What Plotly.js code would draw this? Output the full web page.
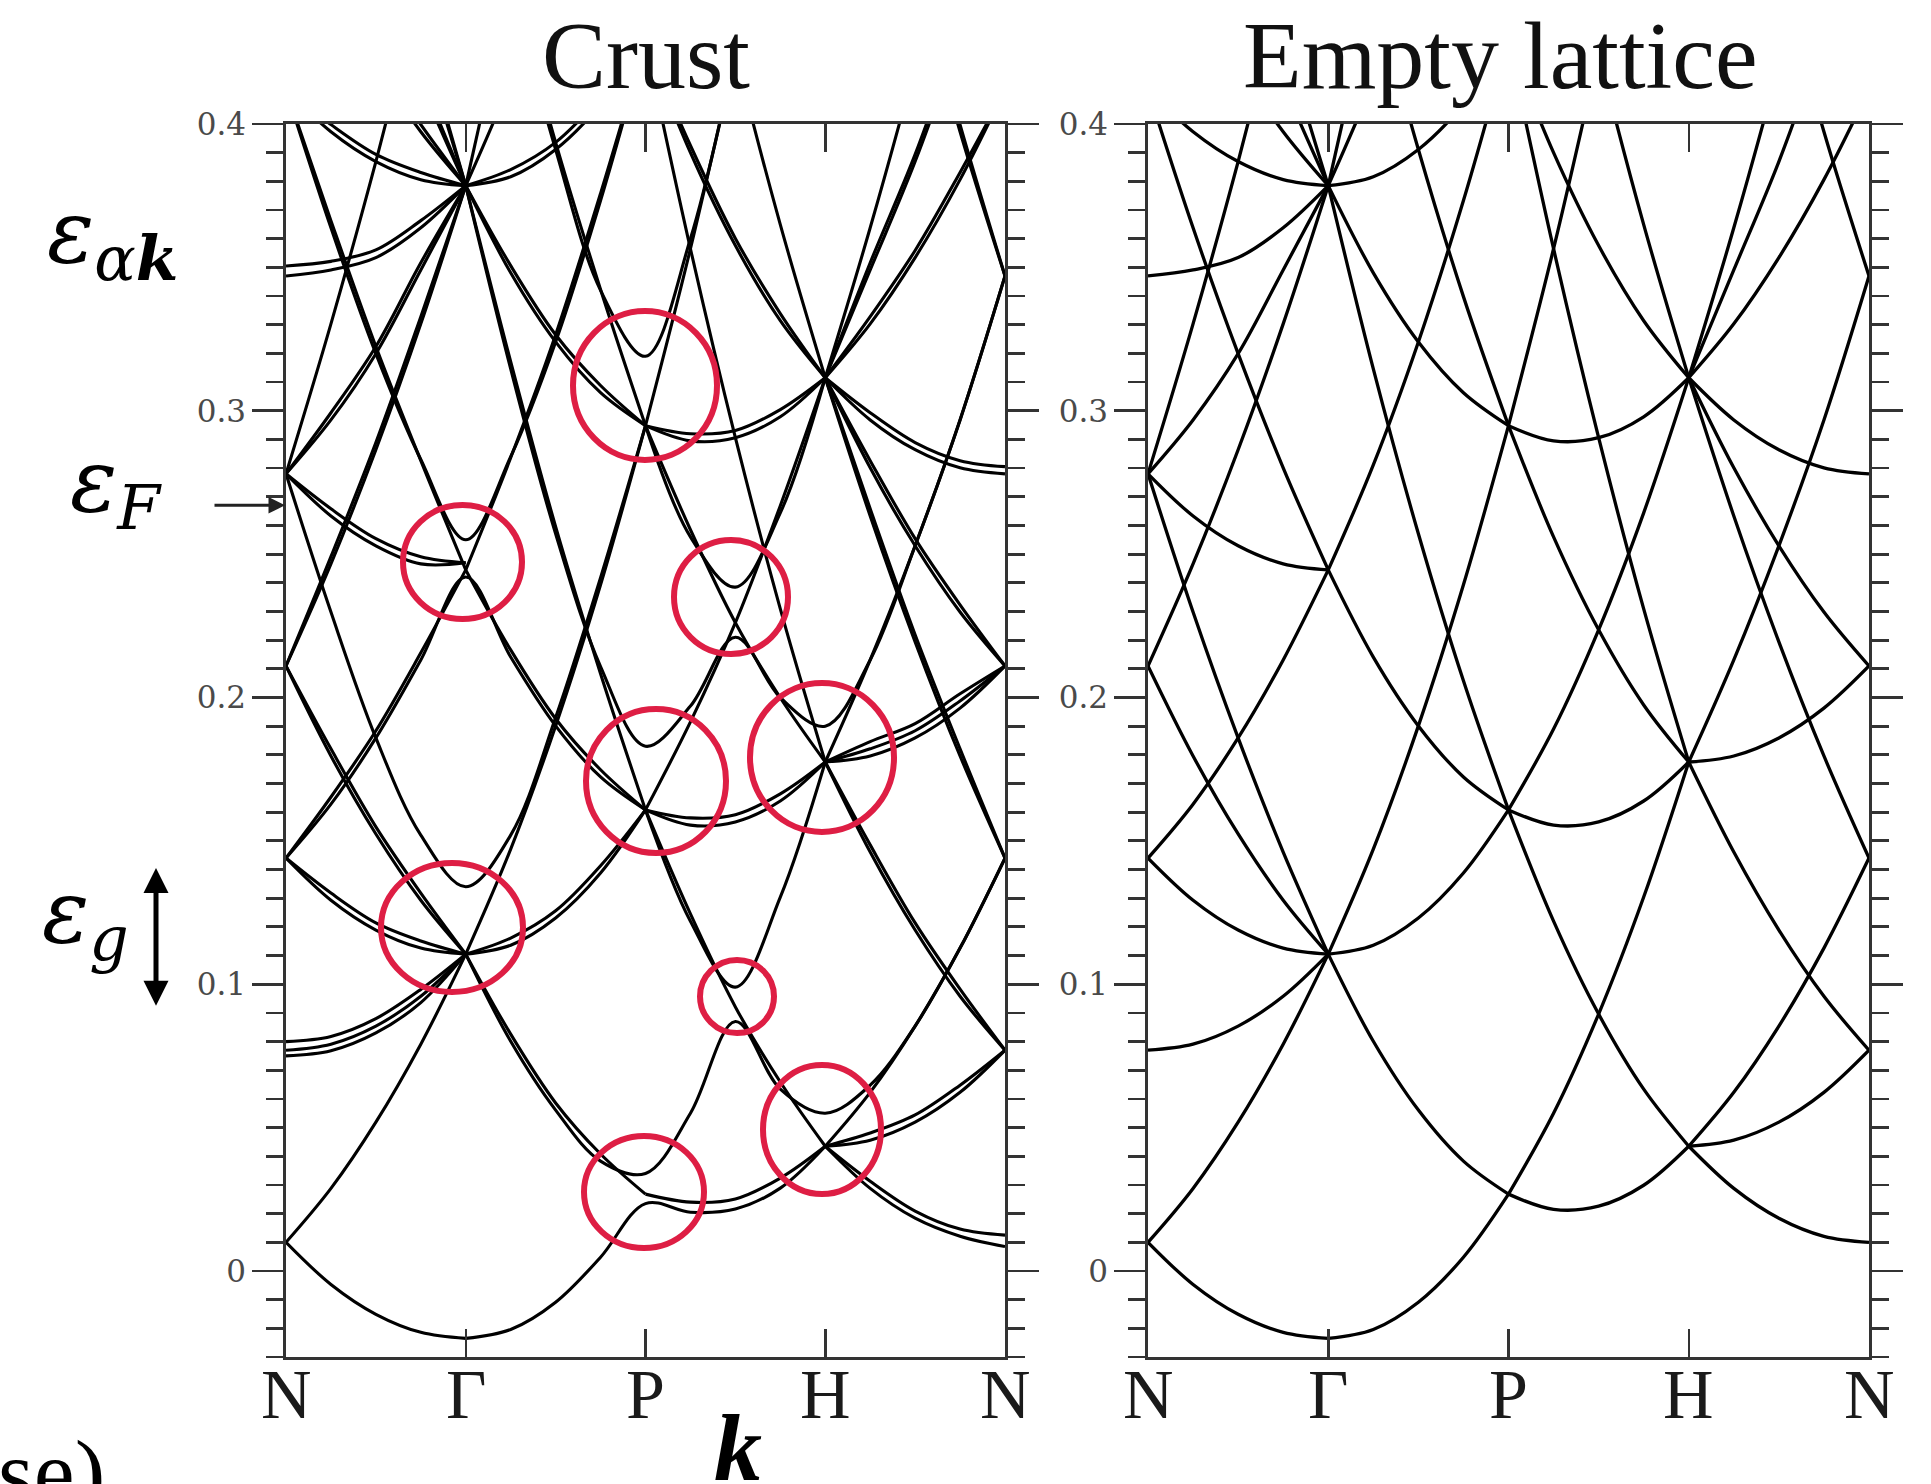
<!DOCTYPE html>
<html><head><meta charset="utf-8">
<script src="https://cdn.plot.ly/plotly-3.0.1.min.js"></script>
<style>html,body{margin:0;padding:0;background:#fff;}#chart{width:1931px;height:1484px;}</style>
</head><body><div id="chart"></div>
<script>
// ---------- data ----------
const kLabels = ['N', 'Γ', 'P', 'H', 'N'];          // high-symmetry points, one per tick
const kStep = 0.25;                                   // energies are read every quarter segment
const yTickVals = [0, 0.1, 0.2, 0.3, 0.4];
const yTickText = ['0', '0.1', '0.2', '0.3', '0.4'];

// Empty lattice: energies read along each segment, starting at the named point
const emptyFromN = [
  [0.0100, -0.0047, -0.0151, -0.0214, -0.0235],
  [0.0100, 0.0288, 0.0519, 0.0791, 0.1105],
  [0.0770, 0.0791, 0.0854, 0.0958, 0.1105],
  [0.1440, 0.1293, 0.1189, 0.1126, 0.1105],
  [0.2110, 0.1796, 0.1524, 0.1293, 0.1105],
  [0.2780, 0.2298, 0.1859, 0.1461, 0.1105],
  [0.1440, 0.1628, 0.1859, 0.2131, 0.2445],
  [0.2780, 0.2633, 0.2529, 0.2466, 0.2445],
  [0.4120, 0.3638, 0.3199, 0.2801, 0.2445],
  [0.2110, 0.2466, 0.2864, 0.3303, 0.3785],
  [0.3470, 0.3491, 0.3534, 0.3638, 0.3785],
  [0.4790, 0.4476, 0.4204, 0.3973, 0.3785],
  [0.6130, 0.5480, 0.4874, 0.4308, 0.3785],
  [0.2780, 0.2968, 0.3199, 0.3491, 0.3785],
  [0.4120, 0.3973, 0.3869, 0.3806, 0.3785],
  [0.5460, 0.4978, 0.4539, 0.4141, 0.3785],
  [0.2780, 0.3303, 0.3869, 0.4476, 0.5125]
];
const emptyFromG = [
  [-0.0235, -0.0204, -0.0109, 0.0048, 0.0268],
  [0.1105, 0.0801, 0.0561, 0.0383, 0.0268],
  [0.1105, 0.1136, 0.1231, 0.1388, 0.1608],
  [0.1105, 0.1471, 0.1901, 0.2393, 0.2948],
  [0.2445, 0.2141, 0.1901, 0.1723, 0.1608],
  [0.2445, 0.2811, 0.3240, 0.3733, 0.4288],
  [0.3785, 0.3146, 0.2571, 0.2058, 0.1608],
  [0.3785, 0.3481, 0.3240, 0.3063, 0.2948],
  [0.3785, 0.3816, 0.3911, 0.4068, 0.4288],
  [0.3785, 0.4151, 0.4581],
  [0.3785, 0.4486],
  [0.5125, 0.4486, 0.3911, 0.3398, 0.2948]
];
const emptyFromP = [
  [0.0268, 0.0215, 0.0226, 0.0299, 0.0435],
  [0.0268, 0.0550, 0.0896, 0.1304, 0.1775],
  [0.1608, 0.1220, 0.0896, 0.0634, 0.0435],
  [0.1608, 0.1555, 0.1566, 0.1639, 0.1775],
  [0.1608, 0.1890, 0.2236, 0.2644, 0.3115],
  [0.2948, 0.2560, 0.2236, 0.1974, 0.1775],
  [0.2948, 0.2895, 0.2906, 0.2979, 0.3115],
  [0.2948, 0.3565, 0.4246],
  [0.4288, 0.3565, 0.2906, 0.2309, 0.1775],
  [0.4288, 0.3900, 0.3576, 0.3314, 0.3115],
  [0.5628, 0.4905, 0.4246, 0.3649, 0.3115]
];
const emptyFromH = [
  [0.0435, 0.0288, 0.0184, 0.0121, 0.0100],
  [0.0435, 0.0456, 0.0519, 0.0623, 0.0770],
  [0.0435, 0.0623, 0.0854, 0.1126, 0.1440],
  [0.1775, 0.1461, 0.1189, 0.0958, 0.0770],
  [0.1775, 0.1796, 0.1859, 0.1963, 0.2110],
  [0.1775, 0.2131, 0.2529, 0.2968, 0.3470],
  [0.3115, 0.2633, 0.2194, 0.1796, 0.1440],
  [0.3115, 0.2801, 0.2529, 0.2298, 0.2110],
  [0.3115, 0.2968, 0.2864, 0.2801, 0.2780],
  [0.3115, 0.3303, 0.3534, 0.3806, 0.4120],
  [0.3115, 0.3491, 0.3869, 0.4308, 0.4790],
  [0.3115, 0.3638, 0.4204, 0.4810],
  [0.5795, 0.5146, 0.4539, 0.3973, 0.3470]
];

// Crust: split (doubled) bands and gaps at the avoided crossings
const crustFromN = [
  [0.0100, -0.0047, -0.0151, -0.0214, -0.0235],
  [0.0100, 0.0288, 0.0519, 0.0791, 0.1105],
  [0.0770, 0.0791, 0.0854, 0.0958, 0.1105],
  [0.0800, 0.0818, 0.0880, 0.0982, 0.1105],
  [0.0750, 0.0768, 0.0830, 0.0936, 0.1105],
  [0.1440, 0.1293, 0.1189, 0.1126, 0.1105],
  [0.1440, 0.1318, 0.1214, 0.1151, 0.1105],
  [0.2110, 0.1796, 0.1524, 0.1293, 0.1105],
  [0.2110, 0.1821, 0.1549, 0.1318, 0.1105],
  [0.2780, 0.2298, 0.1859, 0.1520, 0.1340, 0.1520, 0.1930, 0.2418, 0.2948],
  [0.1440, 0.1628, 0.1859, 0.2131, 0.2420, 0.2141, 0.1901, 0.1723, 0.1608],
  [0.1440, 0.1653, 0.1884, 0.2156, 0.2445],
  [0.2780, 0.2633, 0.2529, 0.2466, 0.2470],
  [0.2780, 0.2658, 0.2554, 0.2491, 0.2470],
  [0.4120, 0.3638, 0.3199, 0.2830, 0.2550, 0.2840, 0.3240, 0.3733, 0.4288],
  [0.4120, 0.3663, 0.3224, 0.2826, 0.2445],
  [0.2110, 0.2466, 0.2864, 0.3303, 0.3785],
  [0.2110, 0.2491, 0.2889, 0.3328, 0.3785],
  [0.3470, 0.3491, 0.3534, 0.3638, 0.3785],
  [0.3505, 0.3521, 0.3561, 0.3663, 0.3785],
  [0.4790, 0.4476, 0.4204, 0.3973, 0.3785],
  [0.4790, 0.4501, 0.4229, 0.3998, 0.3785],
  [0.6130, 0.5480, 0.4874, 0.4308, 0.3785],
  [0.6130, 0.5505, 0.4899, 0.4333, 0.3785],
  [0.2780, 0.2968, 0.3199, 0.3491, 0.3785],
  [0.2780, 0.2993, 0.3224, 0.3516, 0.3785],
  [0.4120, 0.3973, 0.3869, 0.3806, 0.3785],
  [0.4120, 0.3998, 0.3894, 0.3831, 0.3785],
  [0.5460, 0.4978, 0.4539, 0.4141, 0.3785],
  [0.5460, 0.5003, 0.4564, 0.4166, 0.3785],
  [0.2780, 0.3303, 0.3869, 0.4476, 0.5125]
];
const crustFromG = [
  [-0.0235, -0.0204, -0.0109, 0.0048, 0.0235, 0.0205, 0.0216, 0.0289, 0.0435],
  [0.1105, 0.0801, 0.0561, 0.0383, 0.0340, 0.0550, 0.0870, 0.0634, 0.0550, 0.0648, 0.0854, 0.1126, 0.1440],
  [0.1105, 0.0826, 0.0586, 0.0408, 0.0268],
  [0.1105, 0.1136, 0.1231, 0.1388, 0.1608],
  [0.1105, 0.1161, 0.1256, 0.1413, 0.1608],
  [0.1105, 0.1471, 0.1901, 0.2393, 0.2948],
  [0.2445, 0.2166, 0.1926, 0.1748, 0.1608],
  [0.2445, 0.2836, 0.3265, 0.3758, 0.4288],
  [0.3785, 0.3146, 0.2571, 0.2108, 0.1830, 0.1970, 0.2210, 0.2000, 0.1900, 0.2131, 0.2529, 0.2968, 0.3470],
  [0.3785, 0.3171, 0.2596, 0.2083, 0.1608],
  [0.3785, 0.3481, 0.3240, 0.3063, 0.2948],
  [0.3785, 0.3506, 0.3265, 0.3088, 0.2948],
  [0.3785, 0.3816, 0.3911, 0.4068, 0.4288],
  [0.3785, 0.3841, 0.3936, 0.4093, 0.4288],
  [0.3785, 0.4151, 0.4581],
  [0.3785, 0.4486],
  [0.5125, 0.4486, 0.3911, 0.3420, 0.3190, 0.3600, 0.4246, 0.4990, 0.5795],
  [0.5125, 0.4511, 0.3936, 0.3423, 0.2948]
];
const crustFromP = [
  [0.0268, 0.0240, 0.0251, 0.0324, 0.0435],
  [0.1608, 0.1220, 0.0990, 0.1304, 0.1775],
  [0.1608, 0.1245, 0.0921, 0.0659, 0.0435],
  [0.1608, 0.1555, 0.1566, 0.1639, 0.1775],
  [0.1608, 0.1580, 0.1591, 0.1664, 0.1775],
  [0.1608, 0.1915, 0.2261, 0.2669, 0.3115],
  [0.2948, 0.2560, 0.2385, 0.2644, 0.3115],
  [0.2948, 0.2585, 0.2261, 0.1999, 0.1775],
  [0.2948, 0.2895, 0.2906, 0.2979, 0.3115],
  [0.2948, 0.2920, 0.2931, 0.3004, 0.3115],
  [0.2948, 0.3565, 0.4246],
  [0.4288, 0.3565, 0.2906, 0.2309, 0.1775],
  [0.4288, 0.3900, 0.3576, 0.3314, 0.3115],
  [0.4288, 0.3925, 0.3601, 0.3339, 0.3115],
  [0.5628, 0.4905, 0.4246, 0.3649, 0.3115]
];
const crustFromH = [
  [0.0435, 0.0288, 0.0184, 0.0121, 0.0085],
  [0.0435, 0.0313, 0.0209, 0.0146, 0.0125],
  [0.0435, 0.0456, 0.0519, 0.0623, 0.0770],
  [0.0435, 0.0481, 0.0544, 0.0648, 0.0770],
  [0.0435, 0.0623, 0.0854, 0.1126, 0.1440],
  [0.1775, 0.1461, 0.1189, 0.0958, 0.0770],
  [0.1775, 0.1486, 0.1214, 0.0983, 0.0770],
  [0.1775, 0.1796, 0.1859, 0.1963, 0.2110],
  [0.1775, 0.1821, 0.1884, 0.1988, 0.2110],
  [0.1775, 0.1846, 0.1909, 0.2013, 0.2110],
  [0.1775, 0.2131, 0.2529, 0.2968, 0.3470],
  [0.3115, 0.2633, 0.2194, 0.1796, 0.1440],
  [0.3115, 0.2658, 0.2219, 0.1821, 0.1440],
  [0.3115, 0.2801, 0.2529, 0.2298, 0.2110],
  [0.3115, 0.2826, 0.2554, 0.2323, 0.2110],
  [0.3115, 0.2968, 0.2864, 0.2801, 0.2780],
  [0.3115, 0.2993, 0.2889, 0.2826, 0.2805],
  [0.3115, 0.3303, 0.3534, 0.3806, 0.4120],
  [0.3115, 0.3328, 0.3559, 0.3831, 0.4120],
  [0.3115, 0.3491, 0.3869, 0.4308, 0.4790],
  [0.3115, 0.3516, 0.3894, 0.4333, 0.4790],
  [0.3115, 0.3638, 0.4204, 0.4810],
  [0.5795, 0.5146, 0.4539, 0.3973, 0.3470],
  [0.5795, 0.5171, 0.4564, 0.3998, 0.3470]
];

const fermiEnergy = 0.267;                 // marked by the arrow
const gapTop = 0.1405, gapBottom = 0.092;  // ε_g double arrow

// ---------- build traces ----------
function build(groups) {
  const xs = [], ys = [];
  groups.forEach((paths, start) => {
    paths.forEach(vals => {
      vals.forEach((v, i) => { xs.push(start + i * kStep); ys.push(v); });
      xs.push(null); ys.push(null);
    });
  });
  return { x: xs, y: ys };
}
const crust = build([crustFromN, crustFromG, crustFromP, crustFromH]);
const empty = build([emptyFromN, emptyFromG, emptyFromP, emptyFromH]);

const traces = [
  { type: 'scatter', mode: 'lines', x: crust.x, y: crust.y, xaxis: 'x', yaxis: 'y',
    line: { color: '#000', width: 3.1, shape: 'spline', smoothing: 1 }, connectgaps: false, hoverinfo: 'skip' },
  { type: 'scatter', mode: 'lines', x: empty.x, y: empty.y, xaxis: 'x2', yaxis: 'y2',
    line: { color: '#000', width: 3.3, shape: 'spline', smoothing: 1 }, connectgaps: false, hoverinfo: 'skip' }
];

// ---------- layout ----------
const W = 1931, H = 1484;
const px = v => v / W, py = v => 1 - v / H;
const frame = '#333';
const xCommon = {
  range: [0, kLabels.length - 1], tickmode: 'array', tickvals: kLabels.map((_, i) => i), ticktext: kLabels,
  showticklabels: false,
  ticks: 'inside', ticklen: 28, tickwidth: 2.5, tickcolor: frame,
  showline: true, linecolor: frame, linewidth: 2.8, mirror: 'ticks',
  showgrid: false, zeroline: false, fixedrange: true, automargin: false
};
const yCommon = {
  range: [-0.03, 0.4], tickmode: 'array', tickvals: yTickVals, ticktext: yTickText,
  ticks: 'outside', ticklen: 31, tickwidth: 2.8, tickcolor: frame,
  minor: { tickmode: 'linear', tick0: 0, dtick: 0.01, ticks: 'outside', ticklen: 17, tickwidth: 2.8, tickcolor: frame, showgrid: false },
  showline: true, linecolor: frame, linewidth: 2.8, mirror: 'ticks',
  showgrid: false, zeroline: false, fixedrange: true, automargin: false,
  tickfont: { family: 'DejaVu Serif', size: 31, color: '#4a4a4a' }
};
const yDom = [py(1357), py(124)];

const circleMarks = [
  [645, 385.5, 72, 74.5], [462.5, 562, 59.5, 57], [731, 597, 57, 57],
  [656, 781, 70, 72], [822, 757.5, 72, 74.5], [452, 927.5, 71, 64.5],
  [737, 996.5, 37, 36.5], [822, 1129.5, 59, 64.5], [644, 1192, 60, 56]
];
const shapes = circleMarks.map(([cx, cy, rx, ry]) => ({
  type: 'circle', xref: 'paper', yref: 'paper',
  x0: px(cx - rx), x1: px(cx + rx), y0: py(cy + ry), y1: py(cy - ry),
  line: { color: 'rgb(222,30,68)', width: 6 }
}));

const serif = 'Liberation Serif';
const mathFont = 'DejaVu Serif';
const kPointLabels = [];
['x', 'x2'].forEach(ax => kLabels.forEach((lab, i) => kPointLabels.push({
  text: lab, xref: ax, yref: 'paper', x: i, y: py(1394), xanchor: 'center', yanchor: 'middle',
  showarrow: false, font: { family: serif, size: 70, color: '#1a1a1a' }
})));

const annotations = kPointLabels.concat([
  { text: 'Crust', xref: 'paper', yref: 'paper', x: px(646), y: py(56), xanchor: 'center', yanchor: 'middle',
    showarrow: false, font: { family: serif, size: 96, color: '#111' } },
  { text: 'Empty lattice', xref: 'paper', yref: 'paper', x: px(1500), y: py(56), xanchor: 'center', yanchor: 'middle',
    showarrow: false, font: { family: serif, size: 96, color: '#111' } },
  { text: '<i>ε</i><sub><i>α</i><b><i>k</i></b></sub>', xref: 'paper', yref: 'paper', x: px(45), y: py(238),
    xanchor: 'left', yanchor: 'middle', showarrow: false, font: { family: mathFont, size: 88, color: '#000' } },
  { text: '<i>ε</i><sub><i>F</i></sub>', xref: 'paper', yref: 'paper', x: px(68), y: py(486),
    xanchor: 'left', yanchor: 'middle', showarrow: false, font: { family: mathFont, size: 88, color: '#000' } },
  { text: '<i>ε</i><sub><i>g</i></sub>', xref: 'paper', yref: 'paper', x: px(40), y: py(918),
    xanchor: 'left', yanchor: 'middle', showarrow: false, font: { family: mathFont, size: 88, color: '#000' } },
  { text: '', xref: 'paper', yref: 'y', x: px(285), y: fermiEnergy, axref: 'pixel', ayref: 'pixel', ax: -72, ay: 0,
    showarrow: true, arrowhead: 2, arrowsize: 1.1, arrowwidth: 3, arrowcolor: '#222' },
  { text: '', xref: 'paper', yref: 'y', x: px(156), y: gapTop, axref: 'pixel', ayref: 'y', ax: 0, ay: gapBottom,
    showarrow: true, arrowhead: 2, arrowside: 'end+start', arrowsize: 1, arrowwidth: 5, arrowcolor: '#000' },
  { text: '<b><i>k</i></b>', xref: 'paper', yref: 'paper', x: px(738), y: py(1447), xanchor: 'center', yanchor: 'middle',
    showarrow: false, font: { family: serif, size: 96, color: '#000' } },
  { text: 'se)', xref: 'paper', yref: 'paper', x: px(-4), y: py(1472), xanchor: 'left', yanchor: 'middle',
    showarrow: false, font: { family: serif, size: 92, color: '#000' } }
]);

const layout = {
  width: W, height: H, margin: { l: 0, r: 0, t: 0, b: 0 },
  paper_bgcolor: '#fff', plot_bgcolor: '#fff', showlegend: false,
  xaxis: Object.assign({}, xCommon, { domain: [px(286), px(1005)], anchor: 'y' }),
  yaxis: Object.assign({}, yCommon, { domain: yDom, anchor: 'x' }),
  xaxis2: Object.assign({}, xCommon, { domain: [px(1148), px(1869)], anchor: 'y2' }),
  yaxis2: Object.assign({}, yCommon, { domain: yDom, anchor: 'x2' }),
  shapes: shapes, annotations: annotations
};

Plotly.newPlot('chart', traces, layout, { staticPlot: true, displayModeBar: false });
</script></body></html>
